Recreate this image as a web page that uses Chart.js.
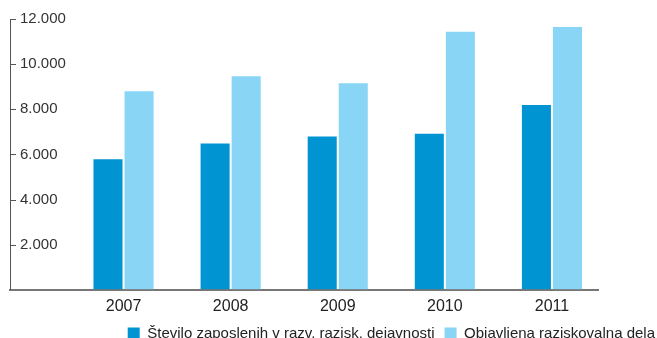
<!DOCTYPE html>
<html>
<head>
<meta charset="utf-8">
<script src="https://cdn.jsdelivr.net/npm/chart.js@4"></script>
<style>
  html, body { margin: 0; padding: 0; background: #fff; overflow: hidden; }
  #wrap { width: 657px; height: 351px; }
</style>
</head>
<body>
<div id="wrap"><canvas id="researchChart"></canvas></div>
<script>
// values
const years = [2007, 2008, 2009, 2010, 2011];
const employees = [5780, 6480, 6790, 6920, 8190];
const publications = [8800, 9460, 9150, 11430, 11650];
const yTicks = [0, 2000, 4000, 6000, 8000, 10000, 12000];
const seriesNames = ['Število zaposlenih v razv. razisk. dejavnosti', 'Objavljena raziskovalna dela'];

const DARK = '#0094d3';
const LIGHT = '#89d5f5';
const FONT = "'Liberation Sans', Arial, sans-serif";

// small tick marks pointing into the plot, like the original
const innerTicks = {
  id: 'innerTicks',
  afterLayout(chart) {
    // legend sits almost flush with the right edge
    if (chart.legend) {
      chart.legend.left += 8;
      chart.legend.right += 8;
    }
  },
  afterDatasetsDraw(chart) {
    const y = chart.scales.y;
    const ctx = chart.ctx;
    ctx.save();
    ctx.strokeStyle = '#555';
    ctx.lineWidth = 1;
    yTicks.forEach(function(v) {
      if (v === 0) return;
      const py = Math.round(y.getPixelForValue(v)) + 0.5;
      ctx.beginPath();
      ctx.moveTo(y.right, py);
      ctx.lineTo(y.right + 6, py);
      ctx.stroke();
    });
    ctx.restore();
  }
};

function toPoints(vals) {
  return years.map(function(yr, i) { return { x: yr, y: vals[i] }; });
}

new Chart(document.getElementById('researchChart'), {
  type: 'bar',
  data: {
    datasets: [
      {
        label: seriesNames[0],
        data: toPoints(employees),
        backgroundColor: DARK,
        categoryPercentage: 0.58,
        barPercentage: 0.935
      },
      {
        label: seriesNames[1],
        data: toPoints(publications),
        backgroundColor: LIGHT,
        categoryPercentage: 0.58,
        barPercentage: 0.935
      }
    ]
  },
  options: {
    responsive: true,
    maintainAspectRatio: false,
    animation: false,
    layout: { padding: { left: 10, right: 0, top: 16, bottom: 0 } },
    scales: {
      x: {
        type: 'linear',
        offset: false,
        min: 2005.94,
        max: 2011.43,
        afterBuildTicks: function(scale) {
          scale.ticks = years.map(function(v) { return { value: v }; });
        },
        afterFit: function(scale) { scale.height -= 7; },
        grid: { display: false, drawTicks: false, offset: false },
        border: { display: true, color: '#777', width: 2 },
        ticks: {
          color: '#222',
          font: { family: FONT, size: 16 },
          padding: 7,
          maxRotation: 0,
          callback: function(v) { return String(v); }
        }
      },
      y: {
        min: 0,
        max: 12000,
        afterBuildTicks: function(scale) {
          scale.ticks = yTicks.map(function(v) { return { value: v }; });
        },
        afterFit: function(scale) { scale.width = 0; },
        grid: { drawOnChartArea: false, drawTicks: false },
        border: { display: true, color: '#555', width: 1 },
        ticks: {
          mirror: true,
          padding: 10,
          color: '#333',
          font: { family: FONT, size: 15 },
          callback: function(v) {
            if (v === 0) return '';
            return v.toLocaleString('de-DE');
          }
        }
      },
      // empty right-hand spacer so the plot stops short of the legend edge
      spacer: {
        position: 'right',
        display: true,
        afterFit: function(scale) { scale.width = 59; },
        grid: { display: false },
        border: { display: false },
        ticks: { display: false }
      }
    },
    plugins: {
      legend: {
        position: 'bottom',
        align: 'end',
        labels: {
          boxWidth: 12,
          boxHeight: 12,
          padding: 10,
          color: '#222',
          font: { family: FONT, size: 15 }
        }
      },
      tooltip: { enabled: false }
    }
  },
  plugins: [innerTicks]
});
</script>
</body>
</html>
